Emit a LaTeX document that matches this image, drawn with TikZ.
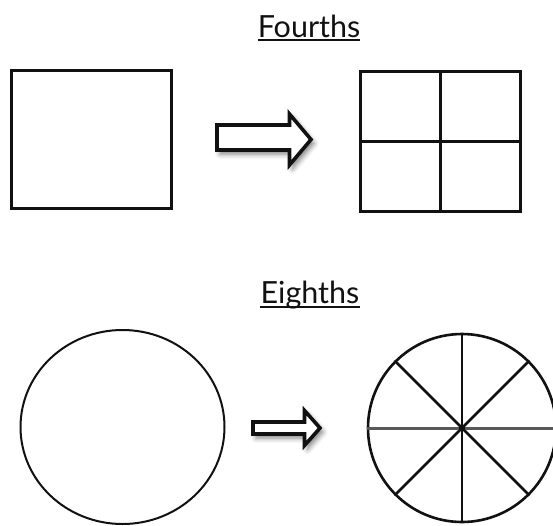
\documentclass[tikz,border=0pt]{standalone}
\usepackage{fontspec}
\setmainfont{Lato}
\usepackage{xcolor}
\usetikzlibrary{positioning, shadows.blur}
\definecolor{ink}{HTML}{111111}
\tikzset{
  title/.style={font=\fontsize{30.5}{36}\selectfont, inner sep=0pt, text=ink},
  uline/.style={line width=1.8pt, ink},
  boxline/.style={draw=ink, line width=3pt},
  part/.style={draw=ink, line width=2.6pt},
  fatarrow/.style={draw=ink, fill=white, line width=3.6pt, line join=miter,
                   blur shadow={shadow xshift=3pt, shadow yshift=-4pt,
                                shadow blur radius=5pt, shadow opacity=50}},
}

\begin{document}
\begin{tikzpicture}[x=1pt, y=-1pt]
    \useasboundingbox (0,0) rectangle (553,525);

    % titles
    \node[title, anchor=base] (fourths) at (309,37) {Fourths};
    \node[title, anchor=base] (eighths) at (310,303) {Eighths};
    \draw[uline] ([yshift=-3pt]fourths.base west) -- ([yshift=-3pt]fourths.base east);
    \draw[uline] ([yshift=-4pt]eighths.base west) -- ([yshift=-4pt]eighths.base east);

    % fourths: whole square -> four parts
    \node[boxline, minimum width=160pt, minimum height=138pt, inner sep=0pt] (whole) at (91,139) {};
    \draw[fatarrow] (217,125) -- (289.5,125) -- (289.5,114) -- (311,139.5)
        -- (289.5,165) -- (289.5,150) -- (217,150) -- cycle;
    \node[part, minimum width=160pt, minimum height=140pt, inner sep=0pt] (grid) at (440.5,141.5) {};
    \draw[part] (grid.north) -- (grid.south);
    \draw[part] (grid.west) -- (grid.east);

    % eighths: whole circle -> eight parts
    \draw[ink, line width=2pt] (122.5,427) ellipse [x radius=102, y radius=97];
    \draw[fatarrow] (253,422) -- (304.5,422) -- (304.5,410.5) -- (320,428)
        -- (304.5,445.5) -- (304.5,434) -- (253,434) -- cycle;
    \node[part, circle, minimum size=188pt, inner sep=0pt] (wheel) at (462,428) {};
    \foreach \a/\b in {45/225, 90/270, 135/315}
      \draw[part] (wheel.\a) -- (wheel.\b);
    \draw[ink!70, line width=3pt] (wheel.west) -- ([xshift=2pt]wheel.east);
    \fill[ink] (wheel.center) ++(-3,-3) rectangle ++(6,6);
\end{tikzpicture}
\end{document}
